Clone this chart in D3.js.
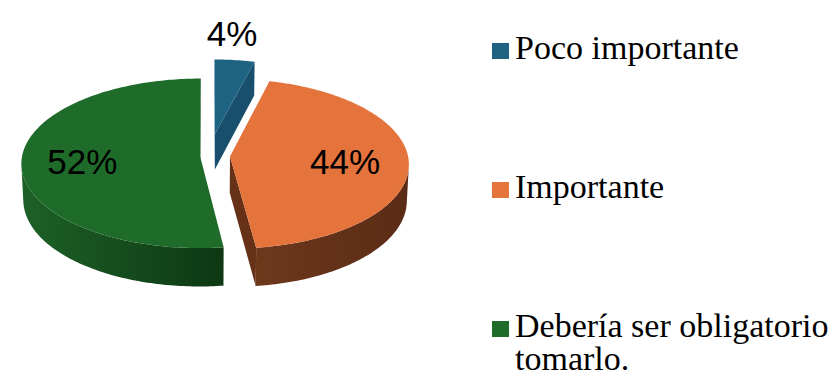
<!DOCTYPE html>
<html><head><meta charset="utf-8">
<script src="https://cdn.jsdelivr.net/npm/d3@7"></script>
<style>html,body{margin:0;padding:0;background:#fff;} svg{display:block}</style>
</head><body>
<svg id="chart" width="838" height="391"></svg>
<script>
// ---- data ----
const categories = ["Poco importante", "Importante", "Debería ser obligatorio tomarlo."];
const values = [4, 44, 52];
const valueLabels = ["4%", "44%", "52%"];
const legendLines = [["Poco importante"], ["Importante"], ["Debería ser obligatorio", "tomarlo."]];

// ---- styles ----
const topColors = ["#1f6383", "#e5733c", "#1e6b2a"];
const cutColors = ["#174f6d", "#673117", "#15521e"];
const sideLight = ["#1a5674", "#6e381b", "#1d6127"];
const sideDark  = ["#123f57", "#5a2b16", "#0d3813"];
const explode = [0.27, 0.118, 0.05];
const labelRadius = [1.42, 0.645, 0.66];
const labelFrac = [0.32, 0.5, 0.5];

const W = 838, H = 391;
const cx0 = 209, cy0 = 156;
const alpha = 28.2 * Math.PI / 180, L = 10.6, F = 1887, depth = 0.233;
const sa = Math.sin(alpha), ca = Math.cos(alpha);
const cam = [0, L * sa, -L * ca];

function proj(X, Y, Z) {
  const yc = Y * ca + Z * sa;
  const zc = -Y * sa + Z * ca + L;
  return [cx0 + F * X / zc, cy0 - F * yc / zc];
}

const svg = d3.select("#chart");
const defs = svg.append("defs");
const pie = d3.pie().sort(null).value(d => d).startAngle(0).endAngle(2 * Math.PI);
const arcs = pie(values);

const gWalls = svg.append("g");
const gTops = svg.append("g");
const gLabels = svg.append("g");
const line = d3.line();

arcs.forEach((a, i) => {
  const mid = (a.startAngle + a.endAngle) / 2;
  const ox = explode[i] * Math.sin(mid), oz = explode[i] * Math.cos(mid);
  const P = (r, th, Y) => proj(ox + r * Math.sin(th), Y, oz + r * Math.cos(th));
  const n = Math.max(2, Math.ceil((a.endAngle - a.startAngle) / (Math.PI / 180)));
  const angles = d3.range(n + 1).map(k => a.startAngle + (a.endAngle - a.startAngle) * k / n);

  const gid = "wall" + i;
  const lg = defs.append("linearGradient").attr("id", gid).attr("x1", 0).attr("x2", 1).attr("y1", 0).attr("y2", 0);
  lg.append("stop").attr("offset", "0%").attr("stop-color", sideLight[i]);
  lg.append("stop").attr("offset", "100%").attr("stop-color", sideDark[i]);

  // outer wall: visible parts
  const vis = th => (-1 - ox * Math.sin(th) - (L * ca + oz) * Math.cos(th)) > 0;
  let run = [];
  const runs = [];
  angles.forEach(th => { if (vis(th)) run.push(th); else { if (run.length > 1) runs.push(run); run = []; } });
  if (run.length > 1) runs.push(run);
  runs.forEach(rn => {
    const pts = rn.map(th => P(1, th, 0)).concat(rn.slice().reverse().map(th => P(1, th, -depth)));
    gWalls.append("path").attr("d", line(pts) + "Z").attr("fill", `url(#${gid})`);
  });

  // radial cut faces
  [[a.startAngle, -1], [a.endAngle, 1]].forEach(([th, s]) => {
    const nx = s * Math.cos(th), nz = -s * Math.sin(th);
    const px = ox + 0.5 * Math.sin(th), pz = oz + 0.5 * Math.cos(th);
    const dot = nx * (cam[0] - px) + nz * (cam[2] - pz);
    if (dot > 0) {
      const pts = [P(0, th, 0), P(1, th, 0), P(1, th, -depth), P(0, th, -depth)];
      gWalls.append("path").attr("d", line(pts) + "Z").attr("fill", cutColors[i]);
    }
  });

  // top face
  const topPts = [P(0, 0, 0)].concat(angles.map(th => P(1, th, 0)));
  gTops.append("path").attr("d", line(topPts) + "Z").attr("fill", topColors[i]);

  // label
  const la = a.startAngle + (a.endAngle - a.startAngle) * labelFrac[i];
  const lp = P(labelRadius[i], la, 0);
  gLabels.append("text").attr("x", lp[0]).attr("y", lp[1]).attr("dy", "0.4em")
    .attr("text-anchor", "middle")
    .style("font-family", "'Liberation Sans', Arial, sans-serif").style("font-size", "35px")
    .attr("fill", "#000").text(valueLabels[i]);
});

// ---- legend ----
const legendY = d3.scalePoint().domain(categories).range([59, 337]);
const lgd = svg.append("g");
categories.forEach((c, i) => {
  const y = legendY(c);
  lgd.append("rect").attr("x", 492).attr("y", y - 16).attr("width", 17).attr("height", 16).attr("fill", topColors[i]);
  const t = lgd.append("text").attr("x", 515).attr("y", y)
    .style("font-family", "'Liberation Serif', 'Times New Roman', serif").style("font-size", "34px").attr("fill", "#000");
  legendLines[i].forEach((ln, k) => {
    t.append("tspan").attr("x", 515).attr("dy", k === 0 ? 0 : 33).text(ln);
  });
});
</script>
</body></html>
